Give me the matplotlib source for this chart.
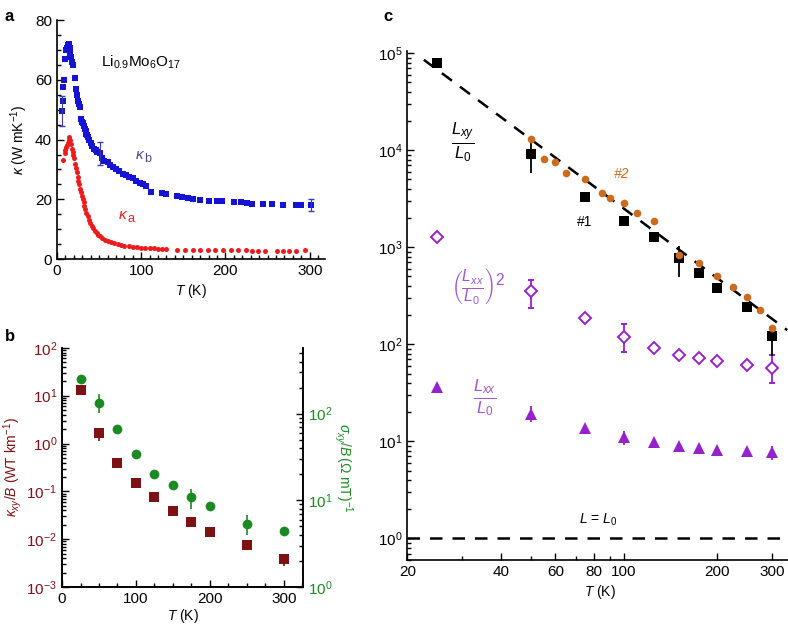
import numpy as np
import matplotlib
matplotlib.use("Agg")
import matplotlib.pyplot as plt
from matplotlib.ticker import FixedLocator, FixedFormatter, MultipleLocator, LogLocator, NullFormatter

plt.rcParams['font.family'] = ['Liberation Sans', 'DejaVu Sans']
plt.rcParams['mathtext.fontset'] = 'custom'
plt.rcParams['mathtext.rm'] = 'Liberation Sans'
plt.rcParams['mathtext.it'] = 'Liberation Sans:italic'
plt.rcParams['mathtext.bf'] = 'Liberation Sans:bold'
plt.rcParams['font.size'] = 10

# ---- panel a: kappa_b (blue) and kappa_a (red) vs T
Tb = [6, 7, 7.5, 8, 10, 10.5, 12, 13, 14, 15, 16, 17, 18, 19, 21, 23, 24, 25, 26, 27,
      29, 30, 31, 32, 33, 34, 35, 36, 37, 38, 40, 42, 44, 46, 48, 50.5, 53, 56, 60, 63,
      66, 70, 74, 78, 82, 86, 90, 94, 98, 102, 106, 112, 125, 130, 142, 148, 156, 162,
      170, 180, 190, 196, 210, 218, 226, 231, 244, 255, 268, 284, 290, 302]
kb = [49.5, 53, 57.5, 60, 67, 70, 70.5, 71.5, 72, 70.5, 69, 67.5, 66, 65, 60.5, 57, 55, 53, 52, 51,
      47, 46, 45.5, 44.5, 43.5, 43, 42, 41.5, 41, 40, 39, 38, 37, 36.5, 35.8, 35.4, 34, 33, 32.5, 31.5,
      31, 30, 29.5, 28.5, 28, 27.5, 27, 26, 25.5, 25, 24.5, 22.5, 22, 21.7, 21, 20.8, 20.3, 20,
      19.8, 19.4, 19.3, 19.3, 19.1, 19, 18.8, 18.6, 18.4, 18.3, 18.2, 18.1, 18, 18]
kb_err_T = [6, 50.5, 302]
kb_err_v = [49.5, 35.4, 18]
kb_err = [5.0, 3.8, 2.0]

Ta = [7, 9, 10, 11, 12, 13, 14, 14.6, 15.5, 16.5, 17.5, 18.5, 19.5, 20.5, 21.5, 22.5, 23.5,
      24.5, 25.5, 26.5, 27.5, 28.5, 29.5, 30.5, 31.5, 32.5, 33.5, 35, 36.5, 38, 39.5, 41, 43,
      45, 47, 49, 51, 54, 57, 60, 64, 68, 72, 76, 80, 85, 90, 95, 100, 105, 110, 115, 120,
      125, 130, 143, 152, 161, 170, 179, 188, 197, 206, 215, 224, 231, 239, 247, 261, 268,
      275, 284, 294]
ka = [33.2, 35.5, 36.5, 37.5, 38.2, 39, 40, 40.8, 40, 38.5, 37, 36, 35, 34, 32, 30.5, 29,
      27.5, 26, 25, 23.5, 22.5, 21.2, 20, 19, 17.8, 16.8, 15.5, 14.3, 13.2, 12.2, 11.2, 10.4,
      9.5, 8.8, 8.2, 7.6, 7, 6.5, 6.1, 5.6, 5.3, 5, 4.7, 4.5, 4.3, 4.1, 4, 3.9, 3.8, 3.7, 3.6, 3.5,
      3.4, 3.4, 3.2, 3.1, 3.1, 3.0, 3.0, 3.0, 2.9, 2.9, 2.9, 2.9, 2.8, 2.8, 2.8, 2.8, 2.8,
      2.8, 2.8, 2.9]

# ---- panel b
T_b = [25, 50, 75, 100, 125, 150, 175, 200, 250, 300]
kxy_B = [12.9, 1.65, 0.386, 0.147, 0.077, 0.039, 0.0224, 0.0138, 0.0075, 0.0039]
kxy_lo = [0, 0.5, 0, 0, 0, 0.009, 0, 0, 0, 0.0011]
kxy_hi = [0, 0.4, 0, 0, 0, 0.009, 0, 0, 0, 0.0006]
sxy_B = [250, 134, 65.8, 34.3, 20.1, 14.9, 10.8, 8.5, 5.34, 4.47]
sxy_lo = [0, 33, 0, 0, 0, 0, 2.8, 0, 1.4, 0]
sxy_hi = [0, 34, 0, 0, 0, 0, 2.8, 0, 1.5, 0]

# ---- panel c
T1 = [25, 50, 75, 100, 125, 150, 175, 200, 250, 300]
Lxy1 = [78900, 9200, 3335, 1880, 1268, 771, 546, 383, 243, 121]
Lxy1_lo = [0, 3330, 0, 0, 0, 279, 0, 0, 0, 46]
Lxy1_hi = [0, 3200, 0, 0, 0, 269, 0, 0, 0, 13]
T2 = [50, 55, 60, 65, 75, 85, 90, 100, 110, 125, 150, 175, 200, 225, 250, 275, 300]
Lxy2 = [13100, 8190, 7570, 5880, 5020, 3665, 3185, 2850, 2250, 1880, 834, 685, 505, 389,
        307, 224, 147]
T_fit = [22.6, 336]
L_fit = [85400, 140]
T3 = [25, 50, 75, 100, 125, 150, 175, 200, 250, 300]
Lxx2 = [1285, 351, 188, 119, 92, 77.3, 71.5, 67.7, 61.1, 57.4]
Lxx2_lo = [0, 114, 0, 35, 0, 0, 0, 0, 0, 17.8]
Lxx2_hi = [0, 111, 0, 43, 0, 0, 0, 0, 0, 20]
Lxx = [36.6, 19, 13.9, 11, 9.84, 8.9, 8.55, 8.2, 7.9, 7.76]
Lxx_lo = [0, 3, 0, 1.8, 0, 0, 0, 0, 0, 1.26]
Lxx_hi = [0, 3.9, 0, 1.9, 0, 0, 0, 0, 0, 1.14]

blue = '#1414d2'
red = '#ec1c1c'
maroon = '#7d1114'
green = '#1c8a22'
orange = '#cc6b1e'
purple = '#9622cc'
purple_txt = '#9c56d6'

fig = plt.figure(figsize=(7.88, 6.26), dpi=100)


def style_ticks(ax):
    ax.tick_params(which='both', direction='in', width=1)
    ax.tick_params(which='major', length=5)
    ax.tick_params(which='minor', length=3)
    for s in ['left', 'bottom', 'right', 'top']:
        ax.spines[s].set_linewidth(1.2)


# panel a
axa = fig.add_axes([0.0723, 0.586, 0.340, 0.382])
axa.plot(Ta, ka, 'o', color=red, ms=3.6, mew=0)
axa.plot(Tb, kb, 's', color=blue, ms=4.2, mew=0)
axa.errorbar(kb_err_T, kb_err_v, yerr=kb_err, fmt='none', ecolor='#3a3aa8',
             elinewidth=0.8, capsize=2)
axa.set_xlim(0, 318)
axa.set_ylim(0, 80)
axa.spines['top'].set_visible(False)
axa.spines['right'].set_visible(False)
style_ticks(axa)
axa.xaxis.set_major_locator(FixedLocator([0, 100, 200, 300]))
axa.xaxis.set_minor_locator(MultipleLocator(10))
axa.yaxis.set_major_locator(MultipleLocator(20))
axa.yaxis.set_minor_locator(MultipleLocator(5))
axa.tick_params(labelsize=11)
axa.set_xlabel(r'$T$ (K)', fontsize=10, labelpad=3)
axa.set_ylabel(r'$\kappa$ (W mK$^{-1}$)', fontsize=10, labelpad=4)
axa.text(100, 66, r'Li$_{0.9}$Mo$_{6}$O$_{17}$', fontsize=11, ha='center', va='center')
axa.text(99, 35, r'$\kappa$', color='#4a4a90', fontsize=11, ha='center', va='center')
axa.text(104, 33.5, 'b', color='#4a4a90', fontsize=9, ha='left', va='center')
axa.text(79, 14.8, r'$\kappa$', color=red, fontsize=11, ha='center', va='center')
axa.text(84, 13.3, 'a', color=red, fontsize=9, ha='left', va='center')

# panel b
axb = fig.add_axes([0.0787, 0.0623, 0.306, 0.382])
axb.errorbar(T_b, kxy_B, yerr=[kxy_lo, kxy_hi], fmt='s', color=maroon, ms=7,
             mew=0, ecolor=maroon, elinewidth=1.2, capsize=2.5)
axb.set_yscale('log')
axb.set_ylim(1e-3, 1e2)
axb.set_xlim(0, 326)
axb.spines['top'].set_visible(False)
style_ticks(axb)
axb.xaxis.set_major_locator(FixedLocator([0, 100, 200, 300]))
axb.xaxis.set_minor_locator(MultipleLocator(25))
axb.yaxis.set_major_locator(LogLocator(base=10, numticks=10))
axb.yaxis.set_minor_locator(LogLocator(base=10, subs=np.arange(2, 10), numticks=20))
axb.yaxis.set_minor_formatter(NullFormatter())
axb.tick_params(axis='y', labelcolor=maroon, labelsize=11)
axb.tick_params(axis='x', labelsize=11)
axb.set_xlabel(r'$T$ (K)', fontsize=10, labelpad=1)
axb.set_ylabel(r'$\kappa_{xy}/B$ (WT km$^{-1}$)', color=maroon, fontsize=10, labelpad=2)

axb2 = axb.twinx()
axb2.errorbar(T_b, sxy_B, yerr=[sxy_lo, sxy_hi], fmt='o', color=green, ms=7,
              mew=0, ecolor=green, elinewidth=1.2, capsize=2.5)
axb2.set_yscale('log')
axb2.set_ylim(1, 575)
axb2.spines['top'].set_visible(False)
style_ticks(axb2)
axb2.yaxis.set_major_locator(LogLocator(base=10, numticks=10))
axb2.yaxis.set_minor_locator(LogLocator(base=10, subs=np.arange(2, 10), numticks=20))
axb2.yaxis.set_minor_formatter(NullFormatter())
axb2.tick_params(axis='y', labelcolor=green, labelsize=11)
axb2.set_ylabel(r'$\sigma_{xy}/B\,(\Omega\ \mathrm{mT})^{-1}$', color=green, fontsize=10,
                rotation=270, labelpad=16)

# panel c
axc = fig.add_axes([0.517, 0.1054, 0.49, 0.813])
axc.plot(T_fit, L_fit, '--', color='black', lw=1.8, dashes=(5, 4))
axc.axhline(1, color='black', lw=1.8, ls='--', dashes=(5, 4))
axc.errorbar(T3, Lxx2, yerr=[Lxx2_lo, Lxx2_hi], fmt='D', mfc='white', mec=purple, ms=6.5,
             mew=1.4, ecolor=purple, elinewidth=1.3, capsize=2.5)
axc.errorbar(T3, Lxx, yerr=[Lxx_lo, Lxx_hi], fmt='^', color=purple, ms=8, mew=0,
             ecolor=purple, elinewidth=1.3, capsize=2.5)
axc.plot(T2, Lxy2, 'o', color=orange, ms=5.5, mew=0, zorder=4)
axc.errorbar(T1, Lxy1, yerr=[Lxy1_lo, Lxy1_hi], fmt='s', color='black', ms=6.5, mew=0,
             ecolor='black', elinewidth=1.3, capsize=2.5, zorder=3)
axc.set_xscale('log')
axc.set_yscale('log')
axc.set_xlim(20, 352)
axc.set_ylim(0.6, 1.05e5)
axc.spines['top'].set_visible(False)
axc.spines['right'].set_visible(False)
style_ticks(axc)
axc.xaxis.set_major_locator(FixedLocator([20, 40, 60, 80, 100, 200, 300]))
axc.xaxis.set_minor_locator(FixedLocator([30, 50, 70, 90]))
axc.xaxis.set_major_formatter(FixedFormatter(['20', '40', '60', '80', '100', '200', '300']))
axc.xaxis.set_minor_formatter(NullFormatter())
axc.yaxis.set_major_locator(LogLocator(base=10, numticks=10))
axc.yaxis.set_minor_locator(LogLocator(base=10, subs=np.arange(2, 10), numticks=20))
axc.yaxis.set_minor_formatter(NullFormatter())
axc.tick_params(labelsize=11)
axc.set_xlabel(r'$T$ (K)', fontsize=10, labelpad=3)
axc.text(30.2, 12000, r'$\frac{L_{xy}}{L_0}$', fontsize=17, ha='center', va='center')
axc.text(97.9, 5650, '#2', color=orange, fontsize=10, style='italic', ha='center', va='center')
axc.text(74.5, 1830, '#1', color='black', fontsize=10, ha='center', va='center')
axc.text(34, 401, r'$\left(\frac{L_{xx}}{L_0}\right)^2$', color=purple_txt, fontsize=16,
         ha='center', va='center')
axc.text(35.4, 28.4, r'$\frac{L_{xx}}{L_0}$', color=purple_txt, fontsize=17, ha='center', va='center')
axc.text(82.6, 1.57, r'$L$ = $L_0$', fontsize=10, ha='center', va='center')

fig.text(0.006, 0.985, 'a', fontsize=12, weight='bold', va='top')
fig.text(0.006, 0.462, 'b', fontsize=12, weight='bold', va='center')
fig.text(0.486, 0.985, 'c', fontsize=12, weight='bold', va='top')

fig.savefig('out.png', dpi=100)
